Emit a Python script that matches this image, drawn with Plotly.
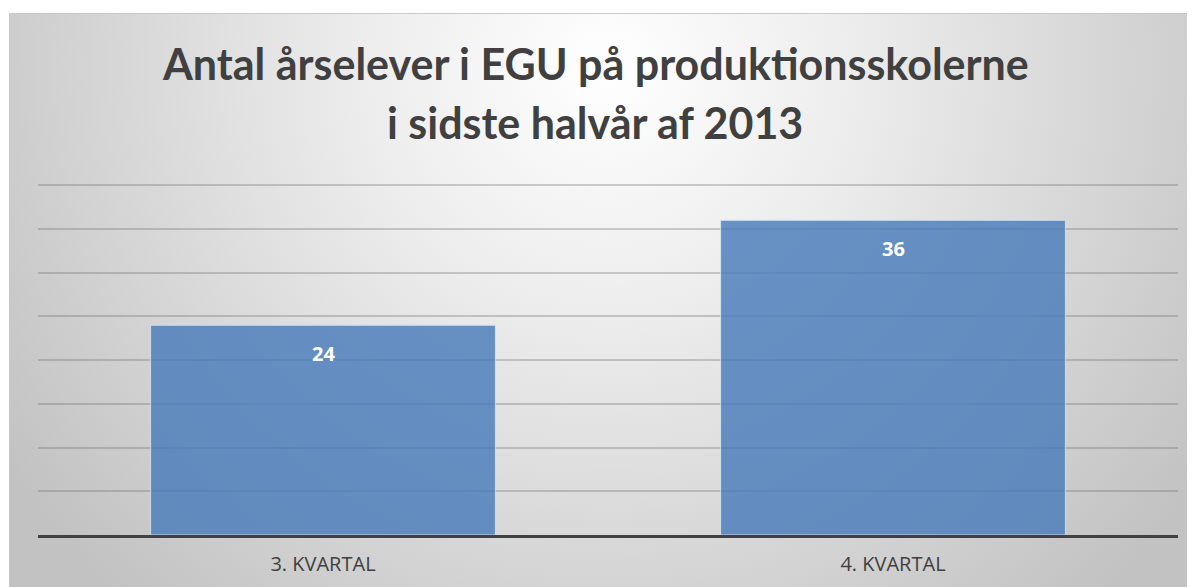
import base64
import plotly.graph_objects as go

# data
kvartaler = ["3. KVARTAL", "4. KVARTAL"]
aarselever = [24, 36]
y_max = 40
y_step = 5
titel = ["Antal årselever i EGU på produktionsskolerne", "i sidste halvår af 2013"]

# the page puts the figure 8px in from the corner, so work in shifted px
W, H = 1195, 587
L, R, T, B = 30, 25, 176, 60
plot_w = W - L - R
plot_h = H - T - B

# radial grey background like the office chart style
svg = f"""<svg xmlns='http://www.w3.org/2000/svg' width='{W}' height='{H}' viewBox='0 0 {W} {H}'>
<defs><radialGradient id='g' gradientUnits='userSpaceOnUse' cx='600' cy='60' r='720'>
<stop offset='0' stop-color='#ffffff'/><stop offset='0.35' stop-color='#ececec'/>
<stop offset='1' stop-color='#c2c2c2'/></radialGradient></defs>
<rect x='0' y='0' width='{W}' height='{H}' fill='#ffffff'/>
<rect x='1.5' y='5.5' width='{W}' height='{H}' fill='url(#g)' stroke='#c8c8c8' stroke-width='1'/>
</svg>"""
bg_src = "data:image/svg+xml;base64," + base64.b64encode(svg.encode()).decode()

fig = go.Figure()
fig.add_trace(go.Bar(
    x=kvartaler, y=aarselever,
    marker=dict(color="#4a7dbb", opacity=0.82,
                line=dict(color="rgba(215,230,245,0.9)", width=1)),
    width=0.605,
    hoverinfo="skip",
))

# data labels inside the bar top
for k, v in zip(kvartaler, aarselever):
    fig.add_annotation(x=k, y=v, yshift=-28, text=f"<b>{v}</b>", showarrow=False,
                       font=dict(family="Open Sans", size=20, color="#ffffff"))

# two title lines, placed by pixel
for line, py in zip(titel, [56, 115]):
    fig.add_annotation(xref="paper", yref="paper", x=(587 - L) / plot_w,
                       y=1 + (T - py) / plot_h, yanchor="middle", xanchor="center",
                       text=f"<b>{line}</b>", showarrow=False,
                       font=dict(family="Lato", size=43, color="#404040"))

fig.update_layout(
    width=W, height=H,
    margin=dict(l=L, r=R, t=T, b=B),
    paper_bgcolor="rgba(0,0,0,0)",
    plot_bgcolor="rgba(0,0,0,0)",
    showlegend=False,
    images=[dict(
        source=bg_src, xref="paper", yref="paper",
        x=-L / plot_w, y=1 + T / plot_h,
        sizex=W / plot_w, sizey=H / plot_h,
        xanchor="left", yanchor="top", sizing="stretch", layer="below",
    )],
    xaxis=dict(
        showgrid=False, ticks="", showline=True, linecolor="#404040", linewidth=3,
        tickfont=dict(family="Open Sans", size=20, color="#404040"),
        ticklabelstandoff=9,
    ),
    yaxis=dict(
        range=[0, y_max + 0.15], dtick=y_step, showticklabels=False, zeroline=False,
        showgrid=True, gridcolor="rgba(110,110,110,0.33)", gridwidth=2,
    ),
)

fig.write_html("out.html")
